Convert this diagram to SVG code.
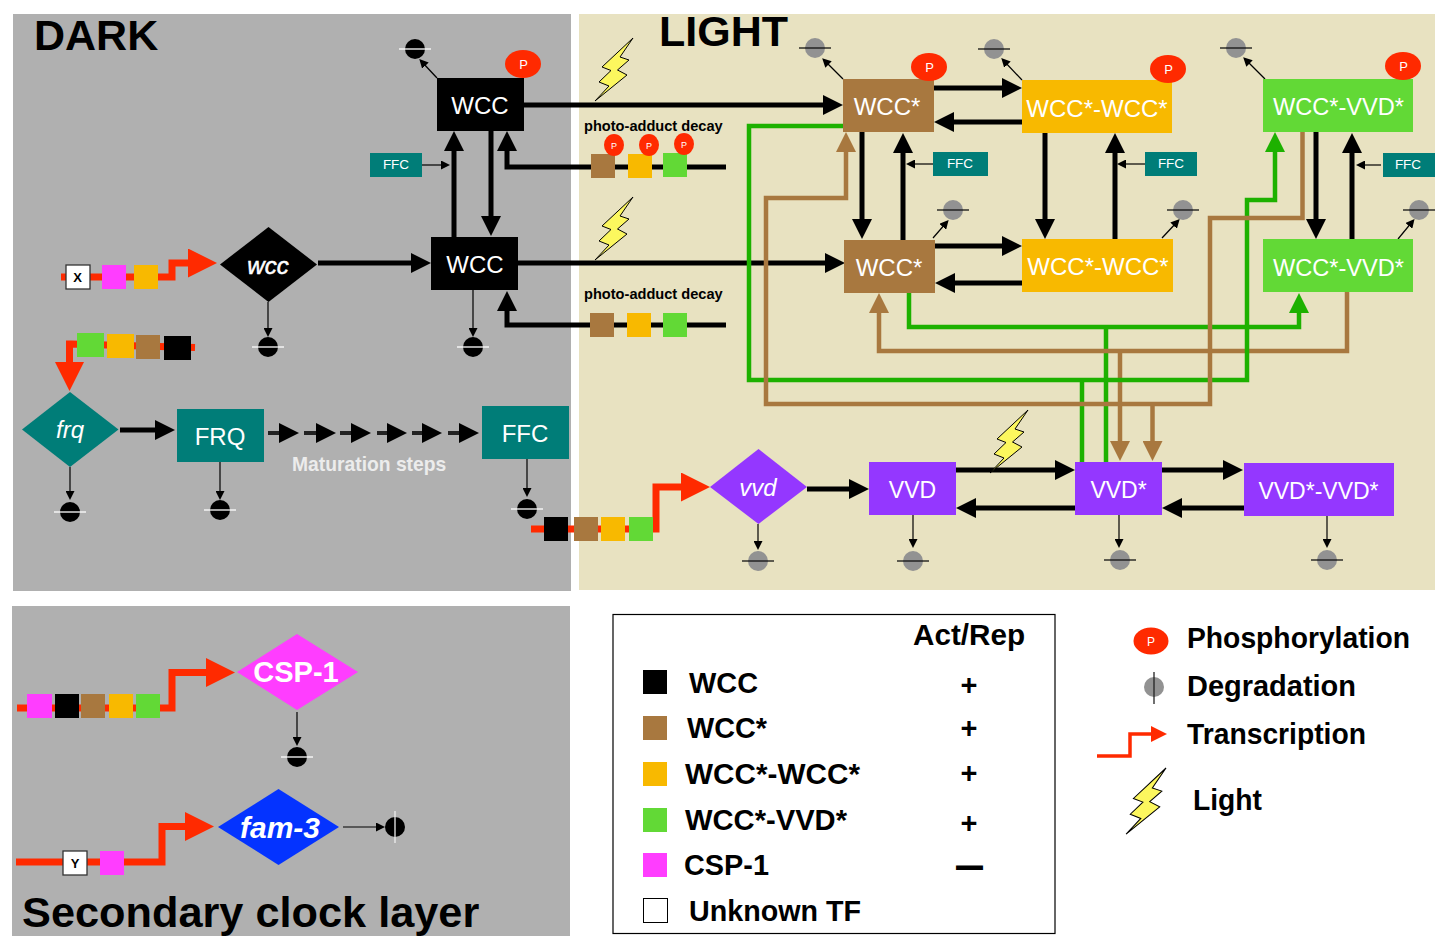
<svg xmlns="http://www.w3.org/2000/svg" width="1440" height="936" viewBox="0 0 1440 936">
<style>
text{font-family:"Liberation Sans",Arial,sans-serif}
.n{fill:#fff;font-size:24px;text-anchor:middle}
.n23{fill:#fff;font-size:23px;text-anchor:middle}
.s{fill:#fff;font-size:13.5px;text-anchor:middle}
.b{fill:#000;font-weight:bold;font-size:29px}
.pd{fill:#000;font-weight:bold;font-size:14.6px}
.t{fill:none;stroke:#000;stroke-width:5;marker-end:url(#h)}
.m{fill:none;stroke:#222;stroke-width:4;marker-end:url(#h)}
.th{fill:none;stroke:#000;stroke-width:1.2;marker-end:url(#thin)}
.g{fill:none;stroke:#1db100;stroke-width:4.5}
.br{fill:none;stroke:#a8783f;stroke-width:4.5}
.r{fill:none;stroke:#ff2a00;stroke-width:7;marker-end:url(#rh)}
.wc{fill:#000}.bn{fill:#a8783f}.or{fill:#f8b900}.gn{fill:#62d936}.pk{fill:#ff3dff}.tl{fill:#007d78}.pu{fill:#9437ff}
.pe{fill:#ff2a00}
.box{fill:#fff;stroke:#333;stroke-width:1.3}
</style>
<defs>
<marker id="h" markerUnits="userSpaceOnUse" markerWidth="20" markerHeight="20" refX="10" refY="10" orient="auto"><path d="M0,0L20,10L0,20z" fill="#000"/></marker>
<marker id="hg" markerUnits="userSpaceOnUse" markerWidth="20" markerHeight="20" refX="10" refY="10" orient="auto"><path d="M0,0L20,10L0,20z" fill="#1db100"/></marker>
<marker id="hb" markerUnits="userSpaceOnUse" markerWidth="20" markerHeight="20" refX="10" refY="10" orient="auto"><path d="M0,0L20,10L0,20z" fill="#a8783f"/></marker>
<marker id="thin" markerUnits="userSpaceOnUse" markerWidth="9" markerHeight="9" refX="5" refY="4.5" orient="auto"><path d="M0,0L9,4.5L0,9z" fill="#000"/></marker>
<marker id="rh" markerUnits="userSpaceOnUse" markerWidth="29" markerHeight="29" refX="14" refY="14.5" orient="auto"><path d="M0,0L29,14.5L0,29z" fill="#ff2a00"/></marker>
<marker id="rs" markerUnits="userSpaceOnUse" markerWidth="16" markerHeight="16" refX="6" refY="8" orient="auto"><path d="M0,0L16,8L0,16z" fill="#ff2a00"/></marker>
<path id="bolt" d="M0,0L-31,29L-22,32.500L-34,44L-24,48L-38,63L-6,37L-15.500,32L-4,22L-13,19z" fill="#fcf75e" stroke="#000" stroke-width="1"/>
<g id="dk"><circle r="10" fill="#000"/><path d="M-16,0H16" stroke="#fff" stroke-width="1.3"/></g>
<g id="gy"><circle r="10" fill="#929292"/><path d="M-16,0H16" stroke="#111" stroke-width="1.3"/></g>
</defs>

<g id="panels">
<rect x="13" y="14" width="558" height="577" fill="#b0b0b0"/>
<rect x="579" y="14" width="856" height="576" fill="#e8e2c1"/>
<rect x="12" y="606" width="558" height="330" fill="#b0b0b0"/>
</g>
<text x="34" y="50" class="b" style="font-size:43px">DARK</text>
<text x="659" y="46" class="b" style="font-size:43px">LIGHT</text>
<text x="22" y="927" class="b" style="font-size:43.300px">Secondary clock layer</text>

<g id="connectors">
<path class="t" d="M524,105H833"/>
<path class="t" d="M518,263H835"/>
<path class="t" d="M454,237V141"/>
<path class="t" d="M491,131V226"/>
<path class="t" d="M726,167H507V141"/>
<path class="t" d="M726,325H507V301"/>
<path class="t" d="M318,263H421"/>
<path class="t" d="M120,430H165"/>
<path class="m" d="M268,433H289"/>
<path class="m" d="M304,433H326"/>
<path class="m" d="M340,433H361"/>
<path class="m" d="M377,433H397"/>
<path class="m" d="M412,433H432"/>
<path class="m" d="M448,433H469"/>
<path class="t" d="M934,88H1012"/>
<path class="t" d="M1022,122H944"/>
<path class="t" d="M935,246H1012"/>
<path class="t" d="M1022,283H945"/>
<path class="t" d="M862,132V229"/>
<path class="t" d="M903,240V143"/>
<path class="t" d="M1045,133V229"/>
<path class="t" d="M1115,239V143"/>
<path class="t" d="M1316,132V229"/>
<path class="t" d="M1352,239V143"/>
<path class="t" d="M807,489H859"/>
<path class="t" d="M956,470H1065"/>
<path class="t" d="M1075,508H966"/>
<path class="t" d="M1162,470H1233"/>
<path class="t" d="M1244,508H1172"/>

<path class="g" d="M1106,327V462"/>
<path class="g" d="M909,293V327H1299V303" marker-end="url(#hg)"/>
<path class="br" d="M1120,351V451" marker-end="url(#hb)"/>
<path class="br" d="M1347,292V351H879V303" marker-end="url(#hb)"/>
<path class="g" d="M1082,380V462"/>
<path class="g" d="M843,126H749V380H1247V200H1275V142" marker-end="url(#hg)"/>
<path class="br" d="M1152.500,404V451" marker-end="url(#hb)"/>
<path class="br" d="M1302.500,132V218H1210V404H766V198H846V142" marker-end="url(#hb)"/>

<path class="th" d="M422,165H446"/>
<path class="th" d="M933,164H910"/>
<path class="th" d="M1145,164H1121"/>
<path class="th" d="M1381,165H1360"/>
<path class="th" d="M437,78L422,62"/>
<path class="th" d="M843,79L825,61"/>
<path class="th" d="M1022,80L1004,61"/>
<path class="th" d="M1265,79L1246,60"/>
<path class="th" d="M933,238L946,223"/>
<path class="th" d="M1162,238L1177,222"/>
<path class="th" d="M1398,239L1412,222"/>
<path class="th" d="M268,302V333"/>
<path class="th" d="M473,290V333"/>
<path class="th" d="M70,467V496"/>
<path class="th" d="M220,462V496"/>
<path class="th" d="M527,459V493"/>
<path class="th" d="M758,524V546"/>
<path class="th" d="M913,515V544"/>
<path class="th" d="M1119,515V544"/>
<path class="th" d="M1327,516V544"/>
<path class="th" d="M297,712V742"/>
<path class="th" d="M343,827H381"/>

<path class="r" d="M61,277H172V263H202"/>
<path class="r" d="M195,347.500L71,344H69.500V376"/>
<path class="r" d="M531,529H656V487H695"/>
<path class="r" d="M17,708H172V672.500H220"/>
<path class="r" d="M16,862H162V826.500H199"/>
</g>

<g id="degradation">
<use href="#dk" x="415" y="49"/><use href="#dk" x="268" y="347"/><use href="#dk" x="473" y="347"/>
<use href="#dk" x="70" y="512"/><use href="#dk" x="220" y="510"/><use href="#dk" x="527" y="509"/>
<use href="#dk" x="297" y="757"/>
<circle cx="395" cy="827" r="10" fill="#000"/><path d="M395,811V843" stroke="#eee" stroke-width="1.300"/>
<use href="#gy" x="815" y="48"/><use href="#gy" x="994" y="49"/><use href="#gy" x="1236" y="48"/>
<use href="#gy" x="953" y="210"/><use href="#gy" x="1183" y="210"/><use href="#gy" x="1419" y="210"/>
<use href="#gy" x="758" y="561"/><use href="#gy" x="913" y="561"/><use href="#gy" x="1120" y="560"/><use href="#gy" x="1327" y="560"/>
</g>

<g id="lightning">
<use href="#bolt" x="633" y="38"/><use href="#bolt" x="633" y="197"/><use href="#bolt" x="1028" y="410"/>
</g>

<g id="node-wcc-top"><rect class="wc" x="437" y="78" width="87" height="53"/><text class="n" x="480" y="114">WCC</text></g>
<g id="node-wcc-low"><rect class="wc" x="431" y="237" width="87" height="53"/><text class="n" x="475" y="273">WCC</text></g>
<g id="node-wcc-gene"><path class="wc" d="M220,264.500L268.500,227L317,264.500L268.500,302z"/><text class="n" x="268" y="274" style="font-style:italic;stroke:#fff;stroke-width:.5">wcc</text></g>
<g id="node-frq-gene"><path class="tl" d="M22,429.500L70,392L118.500,429.500L70,467z"/><text class="n" x="70" y="438" style="font-style:italic">frq</text></g>
<g id="node-frq"><rect class="tl" x="177" y="409" width="87" height="53"/><text class="n" x="220" y="445">FRQ</text></g>
<g id="node-ffc"><rect class="tl" x="482" y="406" width="87" height="53"/><text class="n" x="525" y="442">FFC</text></g>
<text x="292" y="471" style="fill:#ececec;font-weight:bold;font-size:19.300px">Maturation steps</text>

<g id="ffc-small">
<rect class="tl" x="370" y="153" width="52" height="24"/><text class="s" x="396" y="169">FFC</text>
<rect class="tl" x="933" y="152" width="55" height="24"/><text class="s" x="960" y="168">FFC</text>
<rect class="tl" x="1145" y="152" width="52" height="24"/><text class="s" x="1171" y="168">FFC</text>
<rect class="tl" x="1383" y="153" width="52" height="24"/><text class="s" x="1408" y="169">FFC</text>
</g>

<g id="node-wccs-top"><rect class="bn" x="843" y="79" width="91" height="53"/><text class="n" x="887" y="115">WCC*</text></g>
<g id="node-wccs-low"><rect class="bn" x="844" y="240" width="91" height="53"/><text class="n" x="889" y="276">WCC*</text></g>
<g id="node-dimer-top"><rect class="or" x="1022" y="80" width="150" height="53"/><text class="n" x="1097" y="117">WCC*-WCC*</text></g>
<g id="node-dimer-low"><rect class="or" x="1022" y="239" width="151" height="53"/><text class="n" x="1098" y="275">WCC*-WCC*</text></g>
<g id="node-wv-top"><rect class="gn" x="1263" y="79" width="150" height="53"/><text class="n" x="1338.500" y="115" textLength="131" lengthAdjust="spacingAndGlyphs">WCC*-VVD*</text></g>
<g id="node-wv-low"><rect class="gn" x="1263" y="239" width="150" height="53"/><text class="n" x="1338.500" y="276" textLength="131" lengthAdjust="spacingAndGlyphs">WCC*-VVD*</text></g>
<g id="node-vvd-gene"><path class="pu" d="M710,487L758.500,449L807,487L758.500,524z"/><text class="n" x="758" y="496" style="font-style:italic">vvd</text></g>
<g id="node-vvd"><rect class="pu" x="869" y="462" width="87" height="53"/><text class="n23" x="912.500" y="498">VVD</text></g>
<g id="node-vvds"><rect class="pu" x="1075" y="462" width="87" height="53"/><text class="n23" x="1118.500" y="498">VVD*</text></g>
<g id="node-vvdd"><rect class="pu" x="1244" y="463" width="150" height="53"/><text class="n23" x="1318.500" y="499">VVD*-VVD*</text></g>

<g id="phospho">
<ellipse class="pe" cx="523" cy="64" rx="18" ry="14"/><text x="523.500" y="69" fill="#fff" font-size="13" text-anchor="middle">P</text>
<ellipse class="pe" cx="929" cy="67" rx="18" ry="14"/><text x="929.500" y="72" fill="#fff" font-size="13" text-anchor="middle">P</text>
<ellipse class="pe" cx="1168" cy="69" rx="18" ry="14"/><text x="1168.500" y="74" fill="#fff" font-size="13" text-anchor="middle">P</text>
<ellipse class="pe" cx="1403" cy="66" rx="18" ry="14"/><text x="1403.500" y="71" fill="#fff" font-size="13" text-anchor="middle">P</text>
</g>

<g id="decay-top">
<text class="pd" x="584" y="131">photo-adduct decay</text>
<rect class="bn" x="591" y="154" width="24" height="24"/><rect class="or" x="628" y="154" width="24" height="24"/><rect class="gn" x="663" y="153" width="24" height="24"/>
<ellipse class="pe" cx="614" cy="145" rx="10" ry="11"/><text x="614" y="149" fill="#fff" font-size="9" text-anchor="middle">P</text>
<ellipse class="pe" cx="649" cy="145" rx="10" ry="11"/><text x="649" y="149" fill="#fff" font-size="9" text-anchor="middle">P</text>
<ellipse class="pe" cx="684" cy="144" rx="10" ry="11"/><text x="684" y="148" fill="#fff" font-size="9" text-anchor="middle">P</text>
</g>
<g id="decay-low">
<text class="pd" x="584" y="299">photo-adduct decay</text>
<rect class="bn" x="590" y="313" width="24" height="24"/><rect class="or" x="627" y="313" width="24" height="24"/><rect class="gn" x="663" y="313" width="24" height="24"/>
</g>

<g id="promoter-wcc">
<rect class="box" x="66" y="265" width="24" height="24"/><text x="77.500" y="282" font-size="13" font-weight="bold" text-anchor="middle">X</text>
<rect class="pk" x="102" y="265" width="24" height="24"/><rect class="or" x="134" y="265" width="24" height="24"/>
</g>
<g id="promoter-frq">
<rect class="gn" x="77" y="333" width="27" height="24"/><rect class="or" x="107" y="334" width="27" height="24"/>
<rect class="bn" x="136" y="335" width="24" height="24"/><rect class="wc" x="164" y="336" width="27" height="24"/>
</g>
<g id="promoter-vvd">
<rect class="wc" x="544" y="517" width="24" height="24"/><rect class="bn" x="574" y="517" width="24" height="24"/>
<rect class="or" x="601" y="517" width="24" height="24"/><rect class="gn" x="629" y="517" width="24" height="24"/>
</g>
<g id="promoter-csp">
<rect class="pk" x="27" y="694" width="25" height="24"/><rect class="wc" x="55" y="694" width="24" height="24"/><rect class="bn" x="81" y="694" width="24" height="24"/>
<rect class="or" x="109" y="694" width="24" height="24"/><rect class="gn" x="136" y="694" width="24" height="24"/>
</g>
<g id="promoter-fam">
<rect class="box" x="63" y="851" width="24" height="24"/><text x="75" y="868" font-size="13" font-weight="bold" text-anchor="middle">Y</text>
<rect class="pk" x="100" y="851" width="24" height="24"/>
</g>
<g id="node-csp"><path class="pk" d="M237,672L297,634L358,672L297,710z"/><text x="296" y="682" fill="#fff" font-size="29" font-weight="bold" text-anchor="middle">CSP-1</text></g>
<g id="node-fam"><path fill="#0433ff" d="M218,827L278.500,789L339,827L278.500,865z"/><text x="280" y="838" fill="#fff" font-size="29" font-weight="bold" font-style="italic" text-anchor="middle" textLength="80" lengthAdjust="spacingAndGlyphs">fam-3</text></g>

<g id="legend">
<rect x="613" y="614.500" width="442" height="319" fill="#fff" stroke="#000" stroke-width="1.200"/>
<text class="b" x="913" y="645" textLength="112" lengthAdjust="spacingAndGlyphs">Act/Rep</text>
<rect class="wc" x="643" y="670" width="24" height="24"/><text class="b" x="689" y="693" textLength="69" lengthAdjust="spacingAndGlyphs">WCC</text>
<rect class="bn" x="643" y="716" width="24" height="24"/><text class="b" x="687" y="738" textLength="80" lengthAdjust="spacingAndGlyphs">WCC*</text>
<rect class="or" x="643" y="762" width="24" height="24"/><text class="b" x="685" y="784" textLength="175" lengthAdjust="spacingAndGlyphs">WCC*-WCC*</text>
<rect class="gn" x="643" y="808" width="24" height="24"/><text class="b" x="685" y="830" textLength="162" lengthAdjust="spacingAndGlyphs">WCC*-VVD*</text>
<rect class="pk" x="643" y="853" width="24" height="24"/><text class="b" x="684" y="875" textLength="85" lengthAdjust="spacingAndGlyphs">CSP-1</text>
<rect x="643.500" y="898.500" width="24" height="24" fill="#fff" stroke="#000" stroke-width="1"/><text class="b" x="689" y="921" textLength="172" lengthAdjust="spacingAndGlyphs">Unknown TF</text>
<text class="b" x="969" y="695" text-anchor="middle">+</text>
<text class="b" x="969" y="738" text-anchor="middle">+</text>
<text class="b" x="969" y="783" text-anchor="middle">+</text>
<text class="b" x="969" y="833" text-anchor="middle">+</text>
<text class="b" x="969.500" y="875" text-anchor="middle" style="font-size:25px;stroke:#000;stroke-width:2">—</text>
</g>

<g id="key">
<ellipse class="pe" cx="1151" cy="641" rx="17.500" ry="13.500"/><text x="1151" y="646" fill="#fff" font-size="12" text-anchor="middle">P</text>
<text class="b" x="1187" y="648" textLength="223" lengthAdjust="spacingAndGlyphs">Phosphorylation</text>
<circle cx="1154" cy="687" r="10" fill="#929292"/><path d="M1154,672V704" stroke="#222" stroke-width="1.300"/>
<text class="b" x="1187" y="696" textLength="169" lengthAdjust="spacingAndGlyphs">Degradation</text>
<path d="M1097,756H1130V734H1157" fill="none" stroke="#ff2a00" stroke-width="3.500" marker-end="url(#rs)"/>
<text class="b" x="1187" y="744" textLength="179" lengthAdjust="spacingAndGlyphs">Transcription</text>
<use href="#bolt" transform="translate(1166,768) scale(1.05)"/>
<text class="b" x="1193" y="810" textLength="69" lengthAdjust="spacingAndGlyphs">Light</text>
</g>
</svg>
